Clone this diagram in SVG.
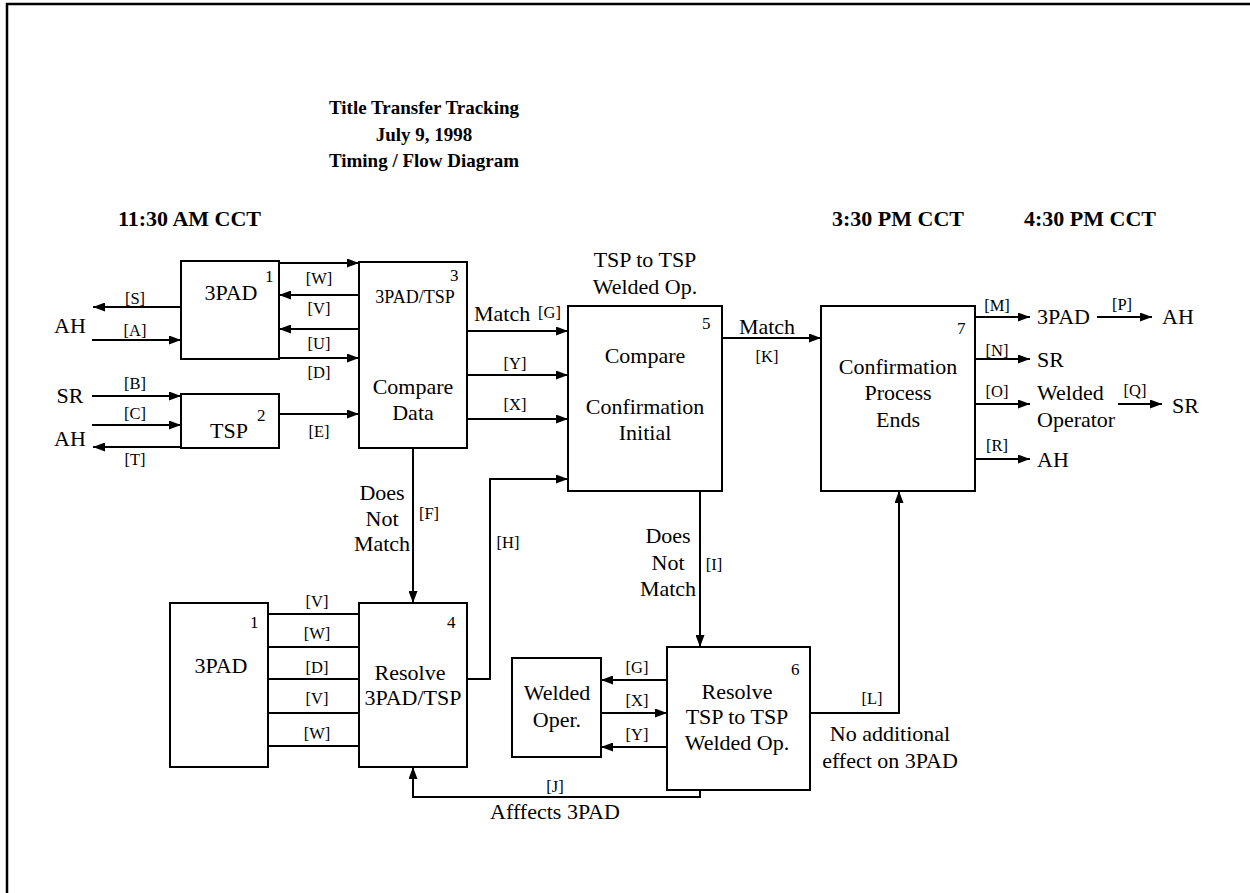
<svg xmlns="http://www.w3.org/2000/svg" width="1250" height="893" viewBox="0 0 1250 893" font-family="'Liberation Serif', 'DejaVu Serif', serif">
<defs>
<marker id="ah" markerUnits="userSpaceOnUse" markerWidth="13" markerHeight="9" refX="12" refY="4.5" orient="auto">
<path d="M0,0 L12,4.5 L0,9 z" fill="#000"/>
</marker>
</defs>
<style>
text{font-family:'Liberation Serif','DejaVu Serif',serif;fill:#000}
.t{font-size:22px}
.m{text-anchor:middle}
.l{font-size:16.5px}
.n{font-size:17px}
.s{font-size:18px}
.h{font-size:19px;font-weight:bold}
.hh{font-size:22px;font-weight:bold}
.box{fill:#fff;stroke:#000;stroke-width:2}
.c{fill:none;stroke:#000;stroke-width:2}
.a{marker-end:url(#ah)}
</style>
<rect width="1250" height="893" fill="#fff"/>
<path d="M7,893 V4 H1250" fill="none" stroke="#000" stroke-width="2.5"/>

<g id="title">
<text class="h m" x="424" y="114">Title Transfer Tracking</text>
<text class="h m" x="424" y="141">July 9, 1998</text>
<text class="h m" x="424" y="167">Timing / Flow Diagram</text>
<text class="hh" x="118" y="226">11:30 AM CCT</text>
<text class="hh" x="832" y="226">3:30 PM CCT</text>
<text class="hh" x="1024" y="226">4:30 PM CCT</text>
</g>

<g id="connectors">
<line class="c a" x1="181" y1="307" x2="93" y2="307"/>
<line class="c a" x1="92" y1="340" x2="181" y2="340"/>
<line class="c a" x1="92" y1="396" x2="181" y2="396"/>
<line class="c a" x1="92" y1="425" x2="181" y2="425"/>
<line class="c a" x1="181" y1="447" x2="93" y2="447"/>
<line class="c a" x1="279" y1="263" x2="359" y2="263"/>
<line class="c a" x1="359" y1="295" x2="279" y2="295"/>
<line class="c a" x1="359" y1="329" x2="279" y2="329"/>
<line class="c a" x1="279" y1="358" x2="359" y2="358"/>
<line class="c a" x1="279" y1="414" x2="359" y2="414"/>
<line class="c a" x1="467" y1="331" x2="568" y2="331"/>
<line class="c a" x1="467" y1="375" x2="568" y2="375"/>
<line class="c a" x1="467" y1="419" x2="568" y2="419"/>
<line class="c a" x1="722" y1="338" x2="821" y2="338"/>
<line class="c a" x1="975" y1="317" x2="1030" y2="317"/>
<line class="c a" x1="1097" y1="317" x2="1152" y2="317"/>
<line class="c a" x1="975" y1="359" x2="1030" y2="359"/>
<line class="c a" x1="975" y1="404" x2="1030" y2="404"/>
<line class="c a" x1="1118" y1="404" x2="1162" y2="404"/>
<line class="c a" x1="975" y1="459" x2="1030" y2="459"/>
<line class="c a" x1="413" y1="447" x2="413" y2="603"/>
<path class="c a" d="M467,679 H490 V479 H568"/>
<line class="c" x1="268" y1="614" x2="359" y2="614"/>
<line class="c" x1="268" y1="647" x2="359" y2="647"/>
<line class="c" x1="268" y1="679" x2="359" y2="679"/>
<line class="c" x1="268" y1="713" x2="359" y2="713"/>
<line class="c" x1="268" y1="746" x2="359" y2="746"/>
<line class="c a" x1="700" y1="491" x2="700" y2="647"/>
<line class="c a" x1="667" y1="680" x2="601" y2="680"/>
<line class="c a" x1="601" y1="713" x2="667" y2="713"/>
<line class="c a" x1="667" y1="747" x2="601" y2="747"/>
<path class="c a" d="M810,713 H899 V491"/>
<path class="c a" d="M700,790 V797 H413 V767"/>

<g id="connector-labels">
<text class="t m" x="70" y="333">AH</text>
<text class="t m" x="70" y="403">SR</text>
<text class="t m" x="70" y="446">AH</text>
<text class="l m" x="135" y="304">[S]</text>
<text class="l m" x="135" y="336">[A]</text>
<text class="l m" x="135" y="389">[B]</text>
<text class="l m" x="135" y="419">[C]</text>
<text class="l m" x="135" y="465">[T]</text>
<text class="l m" x="319" y="284">[W]</text>
<text class="l m" x="319" y="314">[V]</text>
<text class="l m" x="319" y="349">[U]</text>
<text class="l m" x="319" y="378">[D]</text>
<text class="l m" x="319" y="437">[E]</text>
<text class="t" x="474" y="321">Match</text>
<text class="l" x="538" y="318">[G]</text>
<text class="l m" x="515" y="369">[Y]</text>
<text class="l m" x="515" y="410">[X]</text>
<text class="t m" x="645" y="267">TSP to TSP</text>
<text class="t m" x="645" y="294">Welded Op.</text>
<text class="t m" x="767" y="334">Match</text>
<text class="l m" x="767" y="362">[K]</text>
<text class="l m" x="997" y="311">[M]</text>
<text class="t" x="1037" y="324">3PAD</text>
<text class="l m" x="1122" y="310">[P]</text>
<text class="t" x="1162" y="324">AH</text>
<text class="l m" x="997" y="356">[N]</text>
<text class="t" x="1037" y="367">SR</text>
<text class="l m" x="997" y="397">[O]</text>
<text class="t" x="1037" y="400">Welded</text>
<text class="t" x="1037" y="427">Operator</text>
<text class="l m" x="1135" y="396">[Q]</text>
<text class="t" x="1172" y="413">SR</text>
<text class="l m" x="997" y="451">[R]</text>
<text class="t" x="1037" y="467">AH</text>
<text class="l m" x="429" y="519">[F]</text>
<text class="t m" x="382" y="500">Does</text>
<text class="t m" x="382" y="526">Not</text>
<text class="t m" x="382" y="551">Match</text>
<text class="l m" x="508" y="548">[H]</text>
<text class="l m" x="317" y="607">[V]</text>
<text class="l m" x="317" y="639">[W]</text>
<text class="l m" x="317" y="673">[D]</text>
<text class="l m" x="317" y="704">[V]</text>
<text class="l m" x="317" y="739">[W]</text>
<text class="l m" x="714" y="570">[I]</text>
<text class="t m" x="668" y="543">Does</text>
<text class="t m" x="668" y="570">Not</text>
<text class="t m" x="668" y="596">Match</text>
<text class="l m" x="637" y="673">[G]</text>
<text class="l m" x="637" y="706">[X]</text>
<text class="l m" x="637" y="740">[Y]</text>
<text class="l m" x="872" y="704">[L]</text>
<text class="t m" x="890" y="741">No additional</text>
<text class="t m" x="890" y="768">effect on 3PAD</text>
<text class="l m" x="555" y="792">[J]</text>
<text class="t m" x="555" y="819">Afffects 3PAD</text>
</g>
</g>

<g id="node1-3pad">
<rect class="box" x="181" y="261" width="98" height="98"/>
<text class="t m" x="231" y="300">3PAD</text>
<text class="n" x="265" y="282">1</text>
</g>
<g id="node2-tsp">
<rect class="box" x="181" y="394" width="98" height="54"/>
<text class="t m" x="229" y="438">TSP</text>
<text class="n" x="257" y="421">2</text>
</g>
<g id="node3-compare-data">
<rect class="box" x="359" y="262" width="108" height="186"/>
<text class="n" x="450" y="281">3</text>
<text class="s m" x="415" y="303">3PAD/TSP</text>
<text class="t m" x="413" y="394">Compare</text>
<text class="t m" x="413" y="420">Data</text>
</g>
<g id="node5-compare-confirmation">
<rect class="box" x="568" y="306" width="154" height="185"/>
<text class="n" x="702" y="329">5</text>
<text class="t m" x="645" y="363">Compare</text>
<text class="t m" x="645" y="414">Confirmation</text>
<text class="t m" x="645" y="440">Initial</text>
</g>
<g id="node7-confirmation-ends">
<rect class="box" x="821" y="306" width="154" height="185"/>
<text class="n" x="957" y="334">7</text>
<text class="t m" x="898" y="374">Confirmation</text>
<text class="t m" x="898" y="400">Process</text>
<text class="t m" x="898" y="427">Ends</text>
</g>
<g id="node1b-3pad">
<rect class="box" x="170" y="603" width="98" height="164"/>
<text class="n" x="250" y="628">1</text>
<text class="t m" x="221" y="673">3PAD</text>
</g>
<g id="node4-resolve">
<rect class="box" x="359" y="603" width="108" height="164"/>
<text class="n" x="447" y="628">4</text>
<text class="t m" x="410" y="680">Resolve</text>
<text class="t m" x="413" y="705">3PAD/TSP</text>
</g>
<g id="node-welded-oper">
<rect class="box" x="512" y="658" width="89" height="99"/>
<text class="t m" x="557" y="700">Welded</text>
<text class="t m" x="557" y="727">Oper.</text>
</g>
<g id="node6-resolve-welded">
<rect class="box" x="667" y="647" width="143" height="143"/>
<text class="n" x="791" y="675">6</text>
<text class="t m" x="737" y="699">Resolve</text>
<text class="t m" x="737" y="724">TSP to TSP</text>
<text class="t m" x="737" y="750">Welded Op.</text>
</g>
</svg>
